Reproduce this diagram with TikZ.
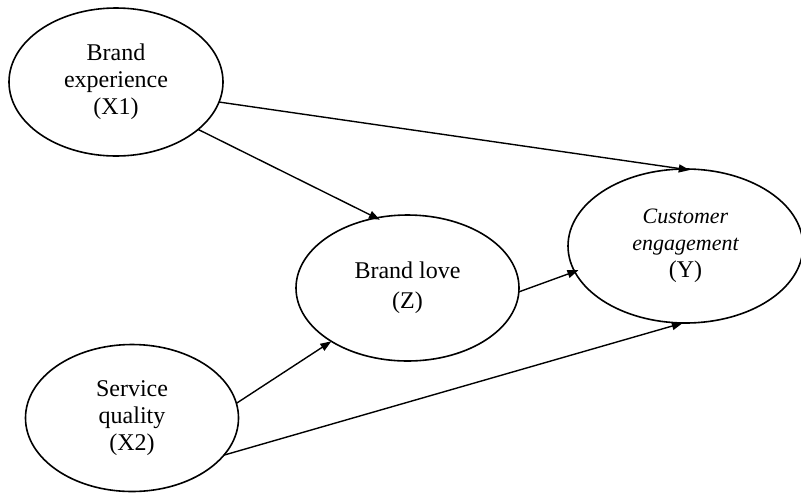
\documentclass[tikz,border=0pt]{standalone}
\usepackage{fontspec}
\setmainfont{Liberation Serif}
\usetikzlibrary{arrows.meta,shapes.geometric}
\newcommand{\itsm}[1]{{\fontsize{11}{13.5}\selectfont\itshape #1}}
\begin{document}
\begin{tikzpicture}[x=0.5pt,y=-0.5pt,
  var/.style={draw, ellipse, line width=0.8pt, inner sep=0pt, outer sep=0pt, align=center,
    font=\fontsize{12}{13.5}\selectfont},
  arr/.style={-{Triangle[length=5.5pt,width=4pt]}, line width=0.7pt}]
\useasboundingbox (0,0) rectangle (801,493);
\node[var, minimum width=107pt, minimum height=74pt] (x1) at (116,82) {Brand\\experience\\(X1)};
\node[var, minimum width=111.5pt, minimum height=73pt] (z) at (407.5,288) {Brand love\\[1.5pt](Z)};
\node[var, minimum width=117.5pt, minimum height=77pt] (y) at (685.5,246) {\itsm{Customer}\\\itsm{engagement}\\(Y)};
\node[var, minimum width=106.5pt, minimum height=73.5pt] (x2) at (132,418) {Service\\quality\\(X2)};
\draw[arr, shorten >=-3.5pt] (x1.-11) -- (y.92);
\draw[arr, shorten >=-2pt] (x1.-30) -- (z.114);
\draw[arr, shorten >=-2pt] (z.-2) -- (y.193);
\draw[arr] (x2.8) -- (z.215);
\draw[arr] (x2.-22) -- (y.-92.6);
\end{tikzpicture}
\end{document}
